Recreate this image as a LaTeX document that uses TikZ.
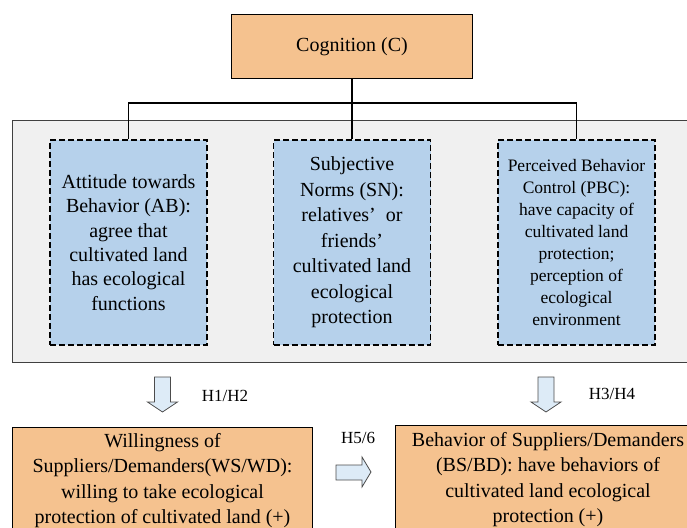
\documentclass[tikz,border=0pt]{standalone}
\usepackage{fontspec}
\setmainfont{Liberation Serif}
\usepackage{tikz}
\definecolor{stageorange}{HTML}{F5C28F}
\definecolor{factorblue}{HTML}{B6D1EB}
\definecolor{panelgray}{HTML}{F0F0F0}
\definecolor{arrowblue}{HTML}{DDEBF7}

\begin{document}
\begin{tikzpicture}[x=1pt, y=-1pt, line width=1pt,
  stagebox/.style={draw, fill=stageorange, align=center, inner sep=0pt,
    font=\fontsize{20}{25.5}\selectfont},
  factorbox/.style={draw, dash pattern=on 6pt off 3pt, line width=1.3pt, fill=factorblue,
    align=center, inner sep=0pt, minimum width=157pt, minimum height=205pt},
  blockarrow/.style={draw=black!70, fill=arrowblue, line width=0.8pt},
  hlabel/.style={font=\fontsize{17}{20}\selectfont}]
\useasboundingbox (0,0) rectangle (687,527);
\clip (0,0) rectangle (687,527);

% gray panel behind the three factors
\node[draw=black!75, fill=panelgray, minimum width=690pt, minimum height=242pt,
  inner sep=0pt] (panel) at (357,241) {};

\node[stagebox, minimum width=241pt, minimum height=63pt] (cog) at (352,46.5) {Cognition (C)};

\node[factorbox, font=\fontsize{20}{24.4}\selectfont] (ab) at (128.5,242.5)
  {Attitude towards\\Behavior (AB):\\agree that\\cultivated land\\has ecological\\functions};
\node[factorbox, font=\fontsize{20}{25.5}\selectfont] (sn) at (352,242.5)
  {Subjective\\Norms (SN):\\relatives’\enspace or\\friends’\\cultivated land\\ecological\\protection};
\node[factorbox, font=\fontsize{17.5}{21.9}\selectfont] (pbc) at (576.5,242.5)
  {Perceived Behavior\\Control (PBC):\\have capacity of\\cultivated land\\protection;\\perception of\\ecological\\environment};

% tree from cognition
\coordinate (split) at (352,103);
\draw[line width=1.3pt] (cog.south) -- (split);
\draw[line width=1.3pt] (ab.north) |- (split) -| (pbc.north);
\draw[line width=1.3pt] (split) -- (sn.north);

\node[stagebox, minimum width=300pt, minimum height=106pt, anchor=north west] (ws) at (12,427)
  {Willingness of\\Suppliers/Demanders(WS/WD):\\willing to take ecological\\protection of cultivated land (+)};
\node[stagebox, minimum width=305pt, minimum height=108pt, anchor=north west] (bs) at (395,425)
  {Behavior of Suppliers/Demanders\\(BS/BD): have behaviors of\\cultivated land ecological\\protection (+)};

% block arrows
\coordinate (d1) at (162.5,377);
\coordinate (d2) at (546,377);
\coordinate (r1) at (336,465);
\foreach \p in {d1,d2}
  \draw[blockarrow] (\p) ++(-8,0) -- ++(16,0) -- ++(0,25) -- ++(7,0)
    -- ++(-15,10) -- ++(-15,-10) -- ++(7,0) -- cycle;
\draw[blockarrow] (r1) -- ++(26,0) -- ++(0,-8) -- ++(9,15) -- ++(-9,15)
  -- ++(0,-7) -- ++(-26,0) -- cycle;

\node[hlabel] (h12) at (225,396) {H1/H2};
\node[hlabel] (h34) at (612,394) {H3/H4};
\node[hlabel] (h56) at (358,438) {H5/6};
\end{tikzpicture}
\end{document}
